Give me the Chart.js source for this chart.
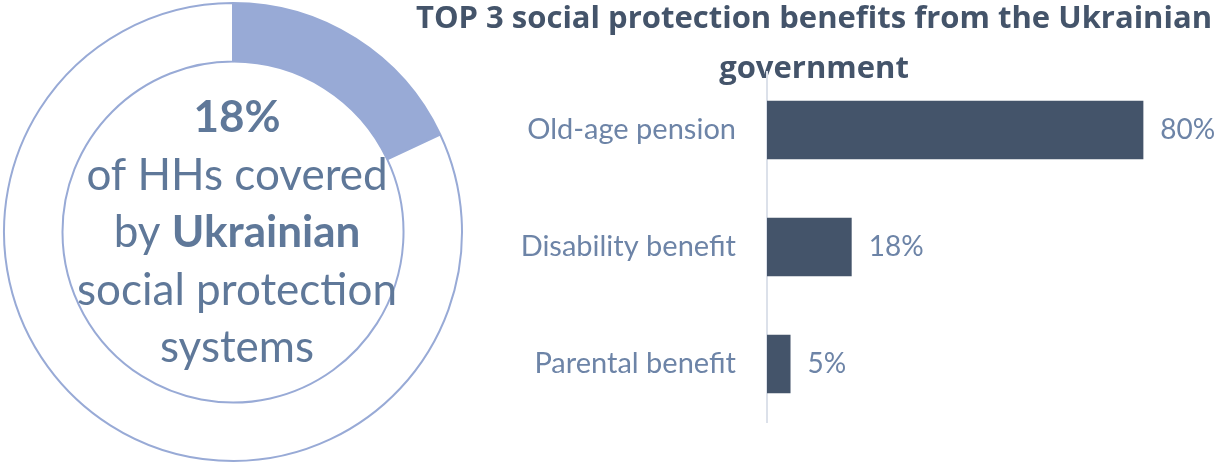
<!DOCTYPE html>
<html>
<head>
<meta charset="utf-8">
<script src="https://cdn.jsdelivr.net/npm/chart.js@4.4.1/dist/chart.umd.min.js"></script>
<style>
  html, body { margin: 0; padding: 0; background: #fff; overflow: hidden; }
  #wrap { position: relative; width: 1221px; height: 462px; }
  #coverBox { position: absolute; left: 0; top: 0; width: 466px; height: 464px; }
  #benefitBox { position: absolute; left: 407px; top: 0; width: 814px; height: 462px; }
</style>
</head>
<body>
<div id="wrap">
  <div id="coverBox"><canvas id="coverChart"></canvas></div>
  <div id="benefitBox"><canvas id="benefitChart"></canvas></div>
</div>
<script>
const coverageLabels = ['Covered', 'Not covered'];
const coverageValues = [18, 82];

const benefitLabels = ['Old-age pension', 'Disability benefit', 'Parental benefit'];
const benefitValues = [80, 18, 5];

const FONT = 'Lato';
const ringColor = '#98AAD6';
const textColor = '#5F7899';
const labelColor = '#6D84A7';
const darkSlate = '#44546A';

// caption in the middle of the ring, mixing regular and bold runs
const centerText = {
  id: 'centerText',
  afterDraw(chart) {
    const ctx = chart.ctx;
    const lines = [
      [{ t: coverageValues[0] + '%', b: true }],
      [{ t: 'of HHs covered' }],
      [{ t: 'by ' }, { t: 'Ukrainian', b: true }],
      [{ t: 'social protection' }],
      [{ t: 'systems' }]
    ];
    const cx = 237;
    let y = 132;
    ctx.save();
    ctx.fillStyle = textColor;
    ctx.textBaseline = 'alphabetic';
    ctx.textAlign = 'left';
    lines.forEach(parts => {
      let total = 0;
      parts.forEach(p => {
        ctx.font = (p.b ? 'bold ' : '') + '44px ' + FONT;
        p.w = ctx.measureText(p.t).width;
        total += p.w;
      });
      let x = cx - total / 2;
      parts.forEach(p => {
        ctx.font = (p.b ? 'bold ' : '') + '44px ' + FONT;
        ctx.fillText(p.t, x, y);
        x += p.w;
      });
      y += 57.5;
    });
    ctx.restore();
  }
};

new Chart(document.getElementById('coverChart'), {
  type: 'doughnut',
  data: {
    labels: coverageLabels,
    datasets: [{
      data: coverageValues,
      backgroundColor: [ringColor, '#FFFFFF'],
      borderColor: ringColor,
      borderWidth: 2
    }]
  },
  options: {
    responsive: true,
    maintainAspectRatio: false,
    animation: false,
    events: [],
    radius: 229,
    cutout: 172,
    plugins: { legend: { display: false }, tooltip: { enabled: false } }
  },
  plugins: [centerText]
});

// value labels to the right of each bar
const barValues = {
  id: 'barValues',
  afterDatasetsDraw(chart) {
    const ctx = chart.ctx;
    const meta = chart.getDatasetMeta(0);
    ctx.save();
    ctx.font = '28px ' + FONT;
    ctx.fillStyle = labelColor;
    ctx.textAlign = 'left';
    ctx.textBaseline = 'middle';
    meta.data.forEach((bar, i) => {
      ctx.fillText(benefitValues[i] + '%', bar.x + 17, bar.y);
    });
    ctx.restore();
  }
};

new Chart(document.getElementById('benefitChart'), {
  type: 'bar',
  data: {
    labels: benefitLabels,
    datasets: [{
      data: benefitValues,
      backgroundColor: darkSlate,
      borderWidth: 0,
      barPercentage: 0.5,
      categoryPercentage: 1
    }]
  },
  options: {
    indexAxis: 'y',
    responsive: true,
    maintainAspectRatio: false,
    animation: false,
    events: [],
    layout: { padding: { top: 0, right: 0, bottom: 39.5, left: 0 } },
    scales: {
      // leave room past the longest bar for its value label
      x: { display: false, min: 0, max: 96.5 },
      y: {
        afterFit(scale) {
          scale.width = 360;
          // labels sit at category centres, no overhang to reserve
          scale.paddingTop = 0;
          scale.paddingBottom = 0;
        },
        grid: { display: false, drawTicks: false },
        border: { display: true, color: '#DCE1EA', width: 2 },
        ticks: {
          padding: 31,
          color: labelColor,
          font: { family: FONT, size: 29 }
        }
      }
    },
    plugins: {
      legend: { display: false },
      tooltip: { enabled: false },
      title: {
        display: true,
        text: ['TOP 3 social protection benefits from the Ukrainian', 'government'],
        color: darkSlate,
        font: { family: 'Open Sans', size: 31, weight: 'bold', lineHeight: '50px' },
        padding: { top: -6.3, bottom: -22.2 }
      }
    }
  },
  plugins: [barValues]
});
</script>
</body>
</html>
